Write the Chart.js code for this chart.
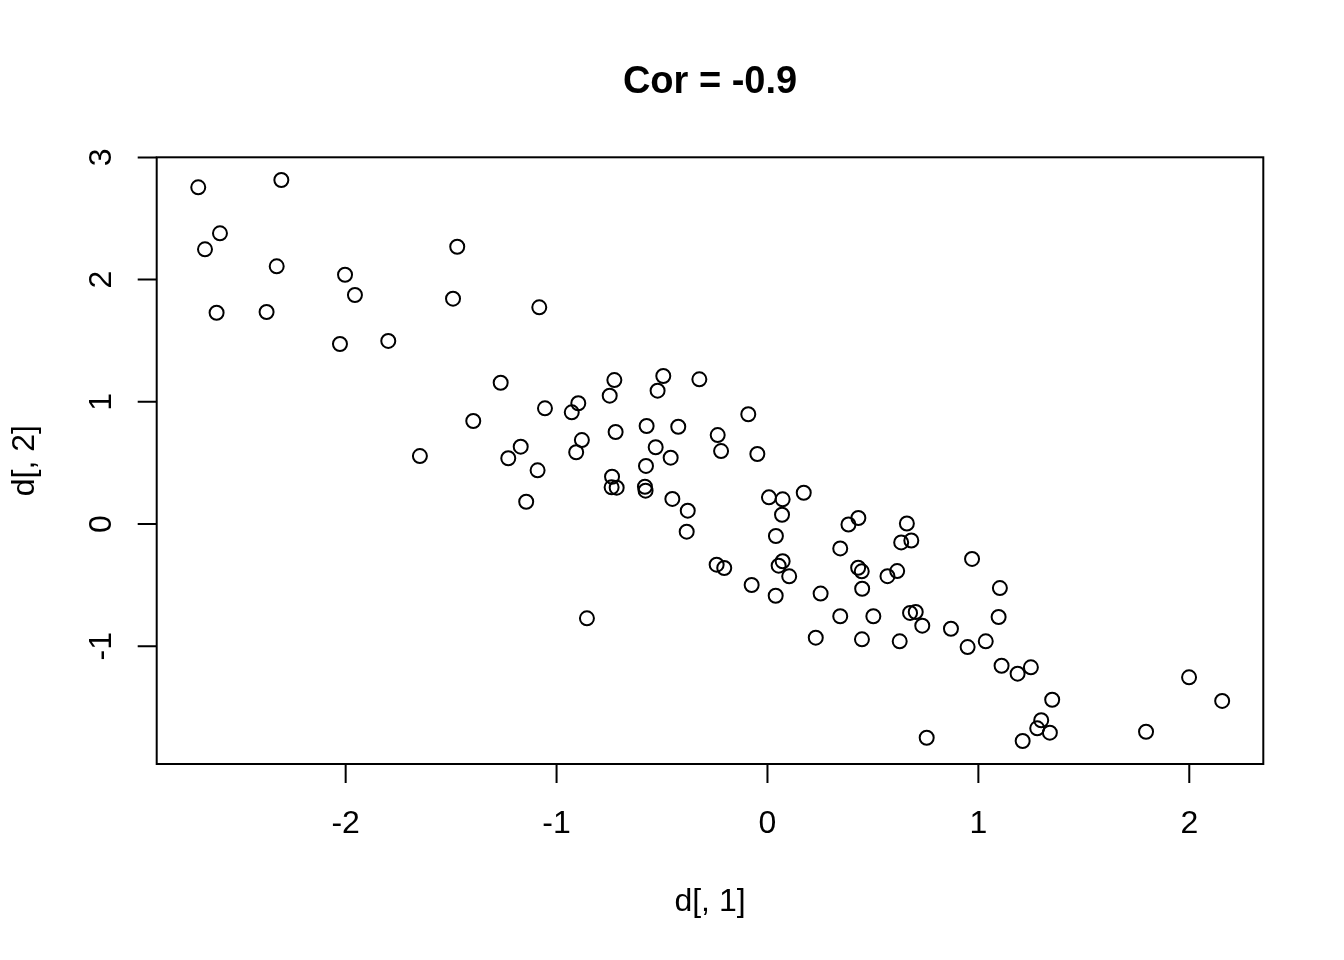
<!DOCTYPE html>
<html>
<head>
<meta charset="utf-8">
<title>Cor = -0.9</title>
<script src="https://cdn.jsdelivr.net/npm/chart.js@4.4.1/dist/chart.umd.min.js"></script>
<style>
  html, body { margin: 0; padding: 0; background: #fff; }
  #wrap { width: 1344px; height: 960px; }
</style>
</head>
<body>
<div id="wrap"><canvas id="grafico" width="1344" height="960"></canvas></div>
<script>
// valores
const dX = [
  -2.699, -2.305, -2.596, -2.667, -2.612, -2.327, -2.375, -2.003, -1.956, -2.027,
  -1.798, -1.471, -1.491, -1.082, -1.265, -1.395, -1.648, -1.229, -1.170, -1.090,
  -1.144, -1.055, -0.928, -0.897, -0.880, -0.907, -0.856, -0.726, -0.748, -0.720,
  -0.737, -0.739, -0.715, -0.573, -0.576, -0.581, -0.578, -0.530, -0.494, -0.521,
  -0.459, -0.423, -0.451, -0.378, -0.383, -0.323, -0.236, -0.220, -0.241, -0.205,
  -0.091, -0.048, -0.075, 0.007, 0.072, 0.172, 0.069, 0.040, 0.053, 0.072,
  0.103, 0.039, 0.252, 0.229, 0.345, 0.384, 0.431, 0.345, 0.430, 0.447,
  0.449, 0.502, 0.448, 0.569, 0.615, 0.661, 0.634, 0.682, 0.676, 0.703,
  0.734, 0.627, 0.755, 0.870, 0.970, 1.102, 1.096, 1.035, 0.949, 1.110,
  1.249, 1.186, 1.350, 1.298, 1.279, 1.339, 1.210, 1.795, 1.999, 2.156
];
const dY = [
  2.755, 2.815, 2.379, 2.248, 1.729, 2.109, 1.735, 2.040, 1.874, 1.473,
  1.498, 2.269, 1.844, 1.773, 1.156, 0.843, 0.556, 0.538, 0.633, 0.439,
  0.182, 0.947, 0.914, 0.988, 0.687, 0.587, -0.772, 1.178, 1.050, 0.753,
  0.387, 0.300, 0.297, 0.802, 0.475, 0.305, 0.273, 0.628, 1.211, 1.091,
  0.543, 0.796, 0.205, 0.109, -0.063, 1.184, 0.728, 0.597, -0.333, -0.360,
  0.898, 0.573, -0.499, 0.218, 0.202, 0.256, 0.076, -0.098, -0.341, -0.305,
  -0.428, -0.587, -0.569, -0.930, -0.200, -0.004, 0.049, -0.755, -0.358, -0.387,
  -0.530, -0.755, -0.944, -0.427, -0.385, 0.004, -0.151, -0.135, -0.728, -0.720,
  -0.832, -0.960, -1.749, -0.857, -0.286, -0.524, -0.761, -0.960, -1.007, -1.160,
  -1.173, -1.225, -1.438, -1.606, -1.672, -1.708, -1.776, -1.700, -1.255, -1.448
];
const xTicks = [-2, -1, 0, 1, 2];
const yTicks = [-1, 0, 1, 2, 3];
const titulo = "Cor = -0.9";
const etiquetaX = "d[, 1]";
const etiquetaY = "d[, 2]";

const puntos = dX.map((x, i) => ({ x: x, y: dY[i] }));
const fuente = "'Liberation Sans', Arial, Helvetica, sans-serif";

// ejes al estilo de R: caja, marcas hacia fuera, etiquetas verticales en y
const ejesR = {
  id: "ejesR",
  afterDraw(chart) {
    const ctx = chart.ctx;
    const a = chart.chartArea;
    const sx = chart.scales.x;
    const sy = chart.scales.y;
    const largo = 19;

    ctx.save();
    ctx.strokeStyle = "#000";
    ctx.fillStyle = "#000";
    ctx.lineWidth = 2;
    ctx.strokeRect(a.left, a.top, a.right - a.left, a.bottom - a.top);

    ctx.beginPath();
    xTicks.forEach((v) => {
      const px = sx.getPixelForValue(v);
      ctx.moveTo(px, a.bottom);
      ctx.lineTo(px, a.bottom + largo);
    });
    yTicks.forEach((v) => {
      const py = sy.getPixelForValue(v);
      ctx.moveTo(a.left, py);
      ctx.lineTo(a.left - largo, py);
    });
    ctx.stroke();

    ctx.font = "32px " + fuente;
    ctx.textAlign = "center";
    ctx.textBaseline = "alphabetic";
    xTicks.forEach((v) => {
      ctx.fillText(String(v), sx.getPixelForValue(v), a.bottom + 69);
    });
    yTicks.forEach((v) => {
      ctx.save();
      ctx.translate(a.left - 46, sy.getPixelForValue(v));
      ctx.rotate(-Math.PI / 2);
      ctx.fillText(String(v), 0, 0);
      ctx.restore();
    });

    const cx = (a.left + a.right) / 2;
    const cy = (a.top + a.bottom) / 2;
    ctx.fillText(etiquetaX, cx, a.bottom + 147);
    ctx.save();
    ctx.translate(a.left - 123, cy);
    ctx.rotate(-Math.PI / 2);
    ctx.fillText(etiquetaY, 0, 0);
    ctx.restore();

    ctx.font = "bold 38px " + fuente;
    ctx.fillText(titulo, cx, 93);
    ctx.restore();
  },
};

const ctx = document.getElementById("grafico").getContext("2d");
new Chart(ctx, {
  type: "scatter",
  data: {
    datasets: [
      {
        label: "d",
        data: puntos,
        pointStyle: "circle",
        pointRadius: 7,
        pointHoverRadius: 7,
        pointBorderWidth: 2,
        pointBorderColor: "#000",
        pointBackgroundColor: "rgba(0,0,0,0)",
      },
    ],
  },
  options: {
    responsive: false,
    animation: false,
    devicePixelRatio: 1,
    events: [],
    layout: {
      padding: { left: 156.7, right: 80.7, top: 157.3, bottom: 196 },
    },
    plugins: {
      legend: { display: false },
      tooltip: { enabled: false },
      title: { display: false },
    },
    scales: {
      x: { type: "linear", display: false, min: -2.896, max: 2.351 },
      y: { type: "linear", display: false, min: -1.964, max: 3.001 },
    },
  },
  plugins: [ejesR],
});
</script>
</body>
</html>
